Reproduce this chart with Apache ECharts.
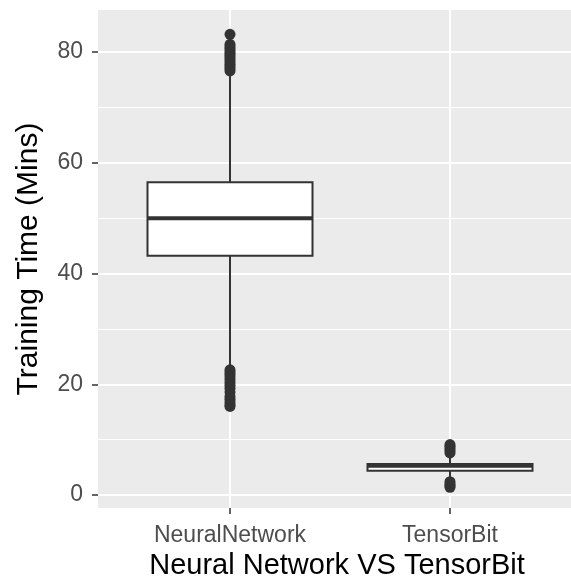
<!DOCTYPE html>
<html>
<head>
<meta charset="utf-8">
<script src="https://cdn.jsdelivr.net/npm/echarts@6/dist/echarts.min.js"></script>
<style>
html,body{margin:0;padding:0;background:#fff;}
#chart{width:571px;height:587px;}
</style>
</head>
<body>
<div id="chart"></div>
<script>
const categories = ['NeuralNetwork', 'TensorBit'];
const catPos = [1, 2];
const lowerWhisker = [23.3, 2.7];
const q1 = [43.2, 4.4];
const median = [50.0, 5.3];
const q3 = [56.5, 5.6];
const upperWhisker = [76.4, 7.4];
const nnOutliers = [76.6, 77.0, 77.4, 77.8, 78.2, 78.6, 79.0, 79.4, 79.8, 80.2, 80.6, 81.0, 81.4, 83.2,
                    22.6, 22.2, 21.8, 21.3, 20.8, 20.3, 19.8, 19.3, 18.6, 17.8, 17.3, 16.8, 16.3, 16.0];
const tbOutliers = [7.6, 8.0, 8.4, 8.8, 9.1, 1.4, 1.7, 2.0, 2.4];
const yTicks = [0, 20, 40, 60, 80];
const yMinorTicks = [10, 30, 50, 70];

const boxData = catPos.map((p, i) => [p, lowerWhisker[i], q1[i], median[i], q3[i], upperWhisker[i]]);
const outlierData = nnOutliers.map(v => [catPos[0], v]).concat(tbOutliers.map(v => [catPos[1], v]));

const chart = echarts.init(document.getElementById('chart'));
const dark = '#333333';
chart.setOption({
  animation: false,
  backgroundColor: '#ffffff',
  grid: { left: 98, top: 10, right: 0, bottom: 79, show: true, backgroundColor: '#EBEBEB', borderWidth: 0 },
  xAxis: {
    type: 'value', min: 0.4, max: 2.55,
    name: 'Neural Network VS TensorBit', nameLocation: 'middle', nameGap: 43,
    nameTextStyle: { color: '#000', fontSize: 29, fontFamily: 'Liberation Sans', padding: [0, 0, 0, 5] },
    axisLine: { show: false, onZero: false },
    axisTick: { show: true, length: 6, customValues: catPos, lineStyle: { color: dark, width: 1.5 } },
    axisLabel: { customValues: catPos, margin: 16, color: '#4D4D4D', fontSize: 23, fontFamily: 'Liberation Sans',
      formatter: v => categories[catPos.indexOf(v)] || '' },
    splitLine: { show: true, lineStyle: { color: '#ffffff', width: 2 } }
  },
  yAxis: [{
    type: 'value', min: -2.35, max: 87.6, position: 'left',
    name: 'Training Time (Mins)', nameLocation: 'middle', nameGap: 54,
    nameTextStyle: { color: '#000', fontSize: 30, fontFamily: 'Liberation Sans' },
    axisLine: { show: false, onZero: false },
    axisTick: { show: true, length: 6, customValues: yTicks, lineStyle: { color: dark, width: 1.5 } },
    axisLabel: { customValues: yTicks, margin: 15, color: '#4D4D4D', fontSize: 23, fontFamily: 'Liberation Sans' },
    splitLine: { show: true, lineStyle: { color: '#ffffff', width: 2 } }
  }, {
    type: 'value', min: -2.35, max: 87.6, position: 'left',
    axisLine: { show: false, onZero: false },
    axisTick: { show: false, customValues: yMinorTicks },
    axisLabel: { show: false, customValues: yMinorTicks },
    splitLine: { show: true, lineStyle: { color: '#ffffff', width: 1 } }
  }],
  series: [{
    type: 'custom',
    data: boxData,
    renderItem: function (params, api) {
      const x = api.value(0);
      const pLow = api.coord([x, api.value(1)]);
      const pQ1 = api.coord([x, api.value(2)]);
      const pMed = api.coord([x, api.value(3)]);
      const pQ3 = api.coord([x, api.value(4)]);
      const pHigh = api.coord([x, api.value(5)]);
      const half = api.size([0.75, 0])[0] / 2;
      return { type: 'group', children: [
        { type: 'line', shape: { x1: pLow[0], y1: pLow[1], x2: pQ1[0], y2: pQ1[1] }, style: { stroke: dark, lineWidth: 2 } },
        { type: 'line', shape: { x1: pQ3[0], y1: pQ3[1], x2: pHigh[0], y2: pHigh[1] }, style: { stroke: dark, lineWidth: 2 } },
        { type: 'rect', shape: { x: pQ3[0] - half, y: pQ3[1], width: 2 * half, height: pQ1[1] - pQ3[1] }, style: { fill: '#ffffff', stroke: dark, lineWidth: 2 } },
        { type: 'line', shape: { x1: pMed[0] - half, y1: pMed[1], x2: pMed[0] + half, y2: pMed[1] }, style: { stroke: dark, lineWidth: 4 } }
      ] };
    }
  }, {
    type: 'scatter',
    data: outlierData,
    symbol: 'circle',
    symbolSize: 11,
    itemStyle: { color: dark, opacity: 1 }
  }]
});
</script>
</body>
</html>
